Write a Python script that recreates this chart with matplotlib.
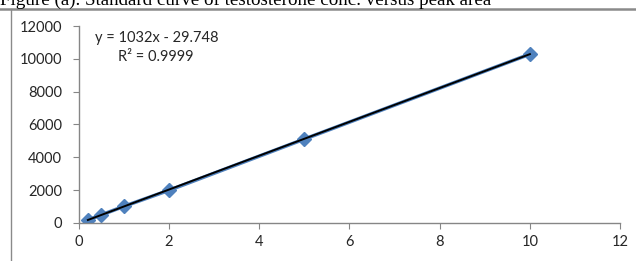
import numpy as np
import matplotlib
matplotlib.use("Agg")
import matplotlib.pyplot as plt
from matplotlib.lines import Line2D

# standard curve data: concentration vs peak area
conc = [0.2, 0.5, 1, 2, 5, 10]
area = [180, 490, 1010, 1990, 5110, 10290]
slope = 1032
intercept = -29.748

x_ticks = [0, 2, 4, 6, 8, 10, 12]
y_ticks = [0, 2000, 4000, 6000, 8000, 10000, 12000]

title = "Figure (a). Standard curve of testosterone conc. versus peak area"
eq_text = "y = 1032x - 29.748"
r2_text = "R\u00b2 = 0.9999"

fig = plt.figure(figsize=(6.36, 2.61), dpi=100)
ax = fig.add_axes([0.124, 0.146, 0.851, 0.754])

ax.plot(conc, area, color="#4F81BD", lw=2.6, marker="D", ms=7.5,
        mfc="#4F81BD", mec="#4F81BD", zorder=2)
fit_x = np.array([conc[0], conc[-1]])
ax.plot(fit_x, slope * fit_x + intercept, color="black", lw=1.4, zorder=3)

ax.set_xlim(0, 12)
ax.set_ylim(0, 12000)
ax.set_xticks(x_ticks)
ax.set_yticks(y_ticks)
ax.set_xticklabels([str(t) for t in x_ticks])
ax.set_yticklabels([str(t) for t in y_ticks])

for s in ["top", "right"]:
    ax.spines[s].set_visible(False)
for s in ["left", "bottom"]:
    ax.spines[s].set_color("#868686")
    ax.spines[s].set_linewidth(1.0)
ax.tick_params(axis="both", direction="out", length=4, color="#868686",
               labelsize=10.5, labelcolor="#262626")
ax.tick_params(axis="x", pad=5)
ax.tick_params(axis="y", pad=8)
for lab in ax.get_xticklabels() + ax.get_yticklabels():
    lab.set_family("Lato")

ax.text(0.35, 11270, eq_text, fontsize=10.5, family="Lato", color="#262626",
        va="center")
ax.text(0.86, 10110, r2_text, fontsize=10.5, family=["Lato", "DejaVu Sans"],
        color="#262626", va="center")

# outer box and title like the source document (title is clipped at the top)
fig.add_artist(Line2D([0, 1], [1 - 8.5 / 261] * 2, color="#8a8a8a", lw=1.8))
fig.add_artist(Line2D([11 / 636] * 2, [0, 1 - 8.5 / 261], color="#8a8a8a", lw=1.0))
fig.text(0.0, 1 - 5 / 261, title, family="Liberation Serif", fontsize=13.7,
         va="baseline", ha="left")

fig.savefig("out.png", dpi=100)
